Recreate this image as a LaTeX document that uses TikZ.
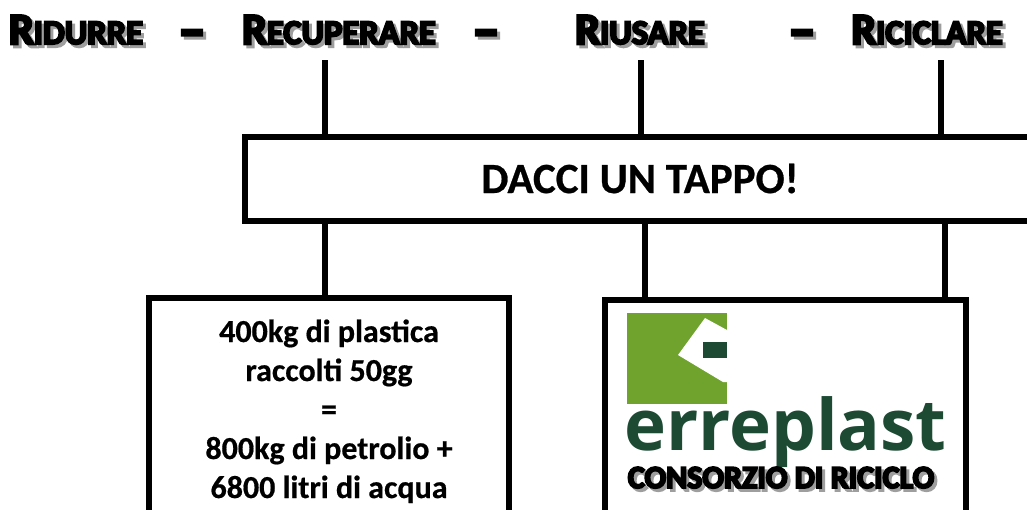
\documentclass[tikz,border=0pt]{standalone}
\usepackage{fontspec}
\setmainfont{Carlito}[Ligatures=NoCommon]
\newfontfamily\heavyfont{Carlito Bold}[FakeBold=6]
\newfontfamily\boldishfont{Carlito Bold}[FakeBold=0.6]
\newfontfamily\logofont{Open Sans Bold}
\definecolor{leafgreen}{HTML}{6FA32E}
\definecolor{inkgreen}{HTML}{1C4A33}
\newcommand{\shadowed}[1]{\leavevmode\rlap{\hspace{3pt}\raisebox{-3pt}{\textcolor{black!38}{#1}}}#1}
\newcommand{\capsword}[2]{{\fontsize{44}{44}\selectfont #1}{\fontsize{34.5}{34.5}\selectfont #2}}
\tikzset{
  x=1pt,y=-1pt,
  heading/.style={inner sep=0pt,anchor=base,font=\heavyfont},
  frame/.style={draw=black,line width=6pt,fill=white,inner sep=0pt},
  link/.style={draw=black,line width=6pt},
  bodytext/.style={inner sep=0pt,anchor=base,font=\boldishfont\fontsize{32}{32}\selectfont},
}
\begin{document}
\begin{tikzpicture}
\useasboundingbox (0,0) rectangle (1027,509);
\fill[white] (0,0) rectangle (1027,509);
% headings
\node[heading] (rid) at (76,44) {\shadowed{\capsword{R}{IDURRE}}};
\node[heading] (rec) at (339,44) {\shadowed{\capsword{R}{ECUPERARE}}};
\node[heading] (riu) at (640,44) {\shadowed{\capsword{R}{IUSARE}}};
\node[heading] (ric) at (927,44) {\shadowed{\capsword{R}{ICICLARE}}};
\node[heading] (d1) at (192,48) {\shadowed{\fontsize{54}{54}\selectfont –}};
\node[heading] (d2) at (486,48) {\shadowed{\fontsize{54}{54}\selectfont –}};
\node[heading] (d3) at (802,48) {\shadowed{\fontsize{54}{54}\selectfont –}};
% coordinates
\coordinate (t1) at (325,60);
\coordinate (t2) at (641,60);
\coordinate (t3) at (941,60);
\coordinate (b1) at (325,137);
\coordinate (b2) at (641,137);
\coordinate (b3) at (941,137);
\coordinate (c1) at (325,221);
\coordinate (c2) at (645,221);
\coordinate (c3) at (945,221);
\coordinate (e1) at (325,298);
\coordinate (e2) at (645,300);
\coordinate (e3) at (945,300);
% links
\draw[link] (t1) -- (b1);
\draw[link] (t2) -- (b2);
\draw[link] (t3) -- (b3);
\draw[link] (c1) -- (e1);
\draw[link] (c2) -- (e2);
\draw[link] (c3) -- (e3);
% banner
\draw[frame] (1040,137) -- (245,137) -- (245,221) -- (1040,221);
\node[inner sep=0pt,anchor=base,font=\boldishfont\fontsize{43}{43}\selectfont] (title) at (640,193) {DACCI UN TAPPO!};
% left box
\draw[frame] (149,520) -- (149,298) -- (509,298) -- (509,520);
\node[bodytext] (l1) at (329,342) {400kg di plastica};
\node[bodytext] (l2) at (329,381) {raccolti 50gg};
\node[bodytext] (l3) at (329,420) {=};
\node[bodytext] (l4) at (329,459) {800kg di petrolio +};
\node[bodytext] (l5) at (329,498) {6800 litri di acqua};
% right box
\draw[frame] (605,520) -- (605,300) -- (966,300) -- (966,520);
% logo
\fill[leafgreen] (627,313) rectangle (727,404);
\fill[white] (705,318) -- (727,330) -- (727,382) -- (723,382) -- (678,355) -- cycle;
\fill[inkgreen] (703,342) rectangle (727,358);
\node[inner sep=0pt,anchor=base,font=\logofont\fontsize{71}{71}\selectfont,text=inkgreen] (logo) at (785.5,450) {erreplast};
\node[heading,font=\heavyfont\fontsize{32}{32}\selectfont] (cons) at (781,488) {\shadowed{CONSORZIO DI RICICLO}};
\end{tikzpicture}
\end{document}
